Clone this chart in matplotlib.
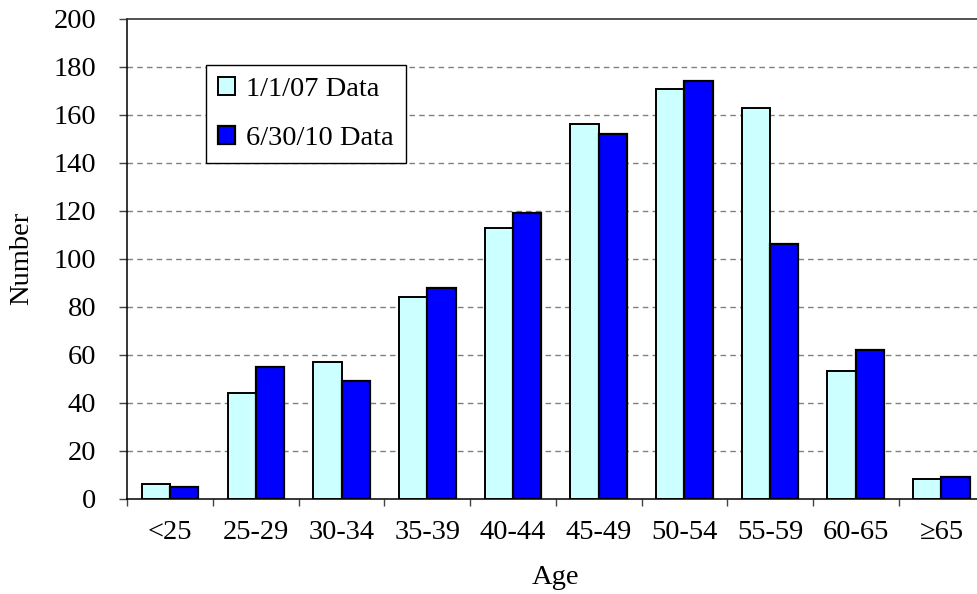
import matplotlib
matplotlib.use("Agg")
import matplotlib.pyplot as plt
import numpy as np

# Age distribution, two snapshots
age_groups = ["<25", "25-29", "30-34", "35-39", "40-44", "45-49",
              "50-54", "55-59", "60-65", "\u226565"]
data_2007 = [6, 44, 57, 84, 113, 156, 171, 163, 53, 8]
data_2010 = [5, 55, 49, 88, 119, 152, 174, 106, 62, 9]
series_labels = ["1/1/07 Data", "6/30/10 Data"]
y_ticks = list(range(0, 201, 20))

plt.rcParams["font.family"] = ["Liberation Serif", "DejaVu Serif"]
FS = 20.5

fig = plt.figure(figsize=(9.77, 5.94), dpi=100)
W, H = 977, 594
ax_left, ax_right = 127.3, 984.3
ax_top, ax_bottom = 19.0, 498.5
ax = fig.add_axes([ax_left / W, 1 - ax_bottom / H,
                   (ax_right - ax_left) / W, (ax_bottom - ax_top) / H])

x = np.arange(len(age_groups))
bw = 0.33
ax.bar(x - bw / 2, data_2007, width=bw, color="#CCFFFF", edgecolor="black",
       linewidth=1.4, label=series_labels[0], zorder=3)
ax.bar(x + bw / 2, data_2010, width=bw, color="#0000FF", edgecolor="black",
       linewidth=1.6, label=series_labels[1], zorder=3)

ax.set_xlim(-0.5, len(age_groups) - 0.5)
ax.set_ylim(0, 200)
ax.set_yticks(y_ticks)
ax.set_yticklabels([str(v) for v in y_ticks])

# horizontal dashed grid
for v in y_ticks[1:-1]:
    ax.axhline(v, color="#808080", linewidth=1.0, dashes=(4, 3), zorder=1)

# category labels centred, tick marks at category boundaries
ax.set_xticks(x)
ax.set_xticklabels(age_groups)
ax.set_xticks(np.arange(-0.5, len(age_groups), 1.0), minor=True)
ax.tick_params(axis="x", which="major", length=0, pad=15.5, labelsize=FS)
ax.tick_params(axis="x", which="minor", length=5, width=1.0, direction="out",
               color="#444444")
ax.tick_params(axis="y", which="major", length=5.8, width=1.0, direction="out",
               pad=16.5, labelsize=FS, color="#444444")

ax.spines["right"].set_visible(False)
ax.spines["left"].set_linewidth(1.1)
ax.spines["bottom"].set_linewidth(1.1)
ax.spines["top"].set_color("#333333")
ax.spines["top"].set_linewidth(1.2)

fig.text(21.7 / W, 1 - 258.8 / H, "Number", rotation=90, ha="center",
         va="center", fontsize=FS)
fig.text(555.8 / W, 1 - 584 / H, "Age", ha="center", va="baseline",
         fontsize=FS)

leg = ax.legend(loc="upper left", bbox_to_anchor=(205.7 / W, 1 - 65 / H),
                bbox_transform=fig.transFigure, borderaxespad=0,
                fontsize=FS, frameon=True, fancybox=False, shadow=False,
                handlelength=0.6, handleheight=0.6, handletextpad=0.41,
                labelspacing=0.84, borderpad=0.42)
leg.get_frame().set_edgecolor("black")
leg.get_frame().set_linewidth(1.0)
leg.get_frame().set_alpha(1)

fig.savefig("out.png", dpi=100)
